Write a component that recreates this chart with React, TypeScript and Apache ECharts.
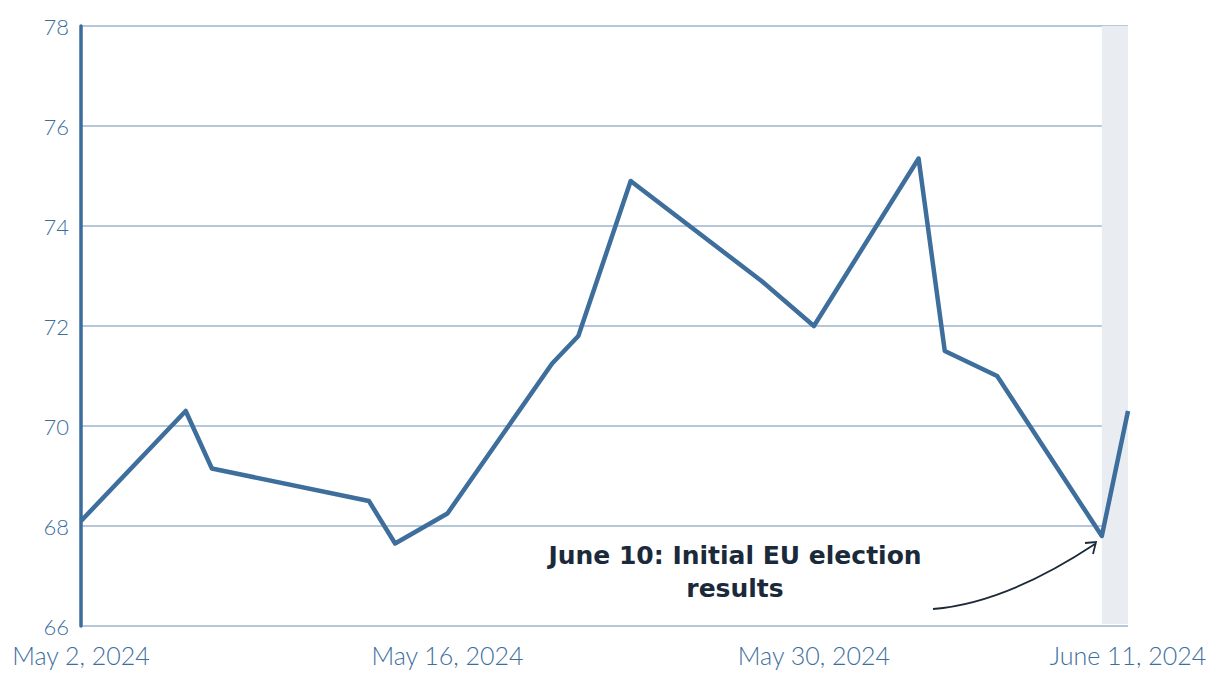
import React, { useEffect, useRef } from "react";
import * as echarts from "echarts";

const dates: string[] = [
  "2024-05-02", "2024-05-06", "2024-05-07", "2024-05-13", "2024-05-14", "2024-05-16",
  "2024-05-20", "2024-05-21", "2024-05-23", "2024-05-28", "2024-05-30", "2024-06-03",
  "2024-06-04", "2024-06-06", "2024-06-10", "2024-06-11",
];
const values: number[] = [
  68.1, 70.3, 69.15, 68.5, 67.65, 68.25,
  71.25, 71.8, 74.9, 72.9, 72.0, 75.35,
  71.5, 71.0, 67.8, 70.3,
];
const labeledDays: string[] = ["2024-05-02", "2024-05-16", "2024-05-30", "2024-06-11"];
const yTicks = { min: 66, max: 78, interval: 2 };
const annotationText = "June 10: Initial EU election\nresults";
const shadeFrom = "2024-06-10";
const shadeTo = "2024-06-11";

const MONTHS = ["January", "February", "March", "April", "May", "June", "July", "August", "September", "October", "November", "December"];

function buildDays(start: string, end: string): string[] {
  const out: string[] = [];
  const d = new Date(start + "T00:00:00Z");
  const e = new Date(end + "T00:00:00Z");
  while (d <= e) {
    out.push(d.toISOString().slice(0, 10));
    d.setUTCDate(d.getUTCDate() + 1);
  }
  return out;
}

function fmt(s: string): string {
  const d = new Date(s + "T00:00:00Z");
  return `${MONTHS[d.getUTCMonth()]} ${d.getUTCDate()}, ${d.getUTCFullYear()}`;
}

export default function App() {
  const ref = useRef<HTMLDivElement>(null);
  useEffect(() => {
    if (!ref.current) return;
    const chart = echarts.init(ref.current, null, { renderer: "svg" });
    const days = buildDays(dates[0], dates[dates.length - 1]);
    const blue = "#3d6f9e";
    const font = "Lato";
    chart.setOption({
      animation: false,
      backgroundColor: "#ffffff",
      grid: { left: 81, right: 92, top: 26, bottom: 52, containLabel: false },
      xAxis: {
        type: "category",
        data: days,
        boundaryGap: false,
        axisLine: { show: false },
        axisTick: { show: false },
        splitLine: { show: false },
        axisLabel: {
          interval: (_i: number, v: string) => labeledDays.includes(v),
          formatter: (v: string) => fmt(v),
          color: blue,
          fontSize: 25,
          fontWeight: 300,
          fontFamily: font,
          lineHeight: 25,
          margin: 16,
          showMinLabel: true,
          showMaxLabel: true,
        },
      },
      yAxis: {
        type: "value",
        min: yTicks.min,
        max: yTicks.max,
        interval: yTicks.interval,
        axisLine: { show: true, lineStyle: { color: "#3b6d9c", width: 3.5 } },
        axisTick: { show: false },
        splitLine: { show: true, lineStyle: { color: "#9cb5cd", width: 1.5 } },
        axisLabel: { color: blue, fontSize: 22, fontWeight: 300, fontFamily: font, lineHeight: 18, margin: 12 },
      },
      series: [
        {
          type: "line",
          data: dates.map((d, i) => [d, values[i]]),
          symbol: "none",
          lineStyle: { color: "#3d6e9c", width: 4.5, join: "round" },
          z: 5,
          markArea: {
            silent: true,
            itemStyle: { color: "#e9edf2" },
            data: [[{ xAxis: shadeFrom, yAxis: 66.04 }, { xAxis: shadeTo, yAxis: 78 }]],
          },
        },
      ],
      graphic: [
        {
          type: "text",
          x: 735,
          y: 572,
          style: {
            text: annotationText,
            fill: "#1b2a3a",
            font: `bold 25px "DejaVu Sans"`,
            align: "center",
            verticalAlign: "middle",
            lineHeight: 33,
          },
          z: 10,
        },
        {
          type: "bezierCurve",
          shape: { x1: 933, y1: 609, x2: 1095, y2: 544, cpx1: 1006, cpy1: 603 },
          style: { stroke: "#1b2a3a", lineWidth: 1.8, fill: "none" },
          z: 10,
        },
        {
          type: "polyline",
          shape: { points: [[1085, 543], [1096, 542], [1093, 554]] },
          style: { stroke: "#1b2a3a", lineWidth: 1.8, fill: "none" },
          z: 10,
        },
      ],
    });
    return () => chart.dispose();
  }, []);
  return <div ref={ref} style={{ position: "fixed", left: 0, top: 0, width: 1220, height: 678 }} />;
}
